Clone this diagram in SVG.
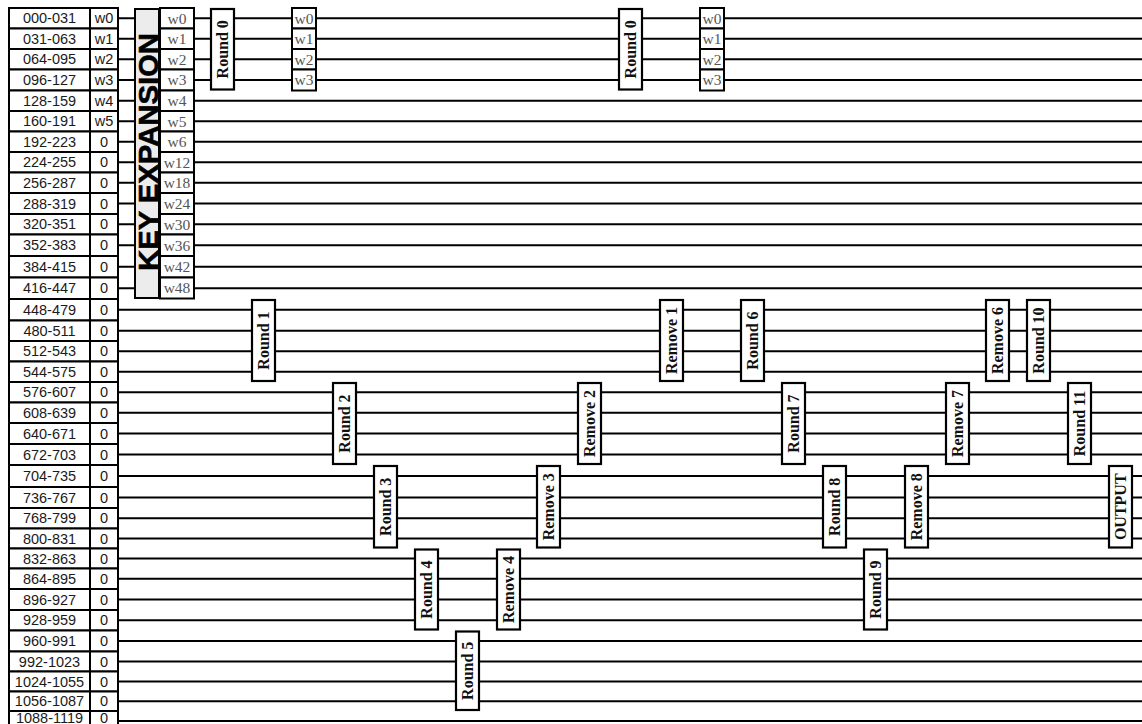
<svg xmlns="http://www.w3.org/2000/svg" width="1142" height="724" viewBox="0 0 1142 724">
<style>
.bg{fill:#ffffff}
.wire{stroke:#000;stroke-width:1.9;fill:none}
.cell{fill:#fff;stroke:#000;stroke-width:2}
.lbl{font-family:"Liberation Sans",Arial,sans-serif;font-size:14.5px;fill:#1a1a1a;text-anchor:middle}
.wc{font-family:"Liberation Serif","Times New Roman",serif;font-size:15.5px;fill:#555;text-anchor:middle}
.box{fill:#fff;stroke:#000;stroke-width:2.2}
.bt{font-family:"Liberation Serif","Times New Roman",serif;font-size:16px;font-weight:bold;fill:#111;text-anchor:middle}
.ke{fill:#ececec;stroke:#000;stroke-width:2}
.ket{font-family:"Liberation Sans",Arial,sans-serif;font-size:28px;font-weight:bold;fill:#000;stroke:#000;stroke-width:0.6;text-anchor:middle}
</style>
<rect class="bg" x="0" y="0" width="1142" height="724"/>
<g id="connectors">
<line class="wire" x1="118" y1="18.25" x2="1142" y2="18.25"/>
<line class="wire" x1="118" y1="38.75" x2="1142" y2="38.75"/>
<line class="wire" x1="118" y1="59.25" x2="1142" y2="59.25"/>
<line class="wire" x1="118" y1="80" x2="1142" y2="80"/>
<line class="wire" x1="118" y1="100.75" x2="1142" y2="100.75"/>
<line class="wire" x1="118" y1="121.25" x2="1142" y2="121.25"/>
<line class="wire" x1="118" y1="141.75" x2="1142" y2="141.75"/>
<line class="wire" x1="118" y1="162.25" x2="1142" y2="162.25"/>
<line class="wire" x1="118" y1="182.75" x2="1142" y2="182.75"/>
<line class="wire" x1="118" y1="203.5" x2="1142" y2="203.5"/>
<line class="wire" x1="118" y1="224.25" x2="1142" y2="224.25"/>
<line class="wire" x1="118" y1="245.25" x2="1142" y2="245.25"/>
<line class="wire" x1="118" y1="266.75" x2="1142" y2="266.75"/>
<line class="wire" x1="118" y1="288.25" x2="1142" y2="288.25"/>
<line class="wire" x1="118" y1="309.75" x2="1142" y2="309.75"/>
<line class="wire" x1="118" y1="330.75" x2="1142" y2="330.75"/>
<line class="wire" x1="118" y1="351.25" x2="1142" y2="351.25"/>
<line class="wire" x1="118" y1="371.75" x2="1142" y2="371.75"/>
<line class="wire" x1="118" y1="392.25" x2="1142" y2="392.25"/>
<line class="wire" x1="118" y1="412.75" x2="1142" y2="412.75"/>
<line class="wire" x1="118" y1="433.5" x2="1142" y2="433.5"/>
<line class="wire" x1="118" y1="454.5" x2="1142" y2="454.5"/>
<line class="wire" x1="118" y1="476" x2="1142" y2="476"/>
<line class="wire" x1="118" y1="497.5" x2="1142" y2="497.5"/>
<line class="wire" x1="118" y1="518.25" x2="1142" y2="518.25"/>
<line class="wire" x1="118" y1="538.5" x2="1142" y2="538.5"/>
<line class="wire" x1="118" y1="558.5" x2="1142" y2="558.5"/>
<line class="wire" x1="118" y1="578.75" x2="1142" y2="578.75"/>
<line class="wire" x1="118" y1="599.5" x2="1142" y2="599.5"/>
<line class="wire" x1="118" y1="620.25" x2="1142" y2="620.25"/>
<line class="wire" x1="118" y1="641" x2="1142" y2="641"/>
<line class="wire" x1="118" y1="661.5" x2="1142" y2="661.5"/>
<line class="wire" x1="118" y1="681.5" x2="1142" y2="681.5"/>
<line class="wire" x1="118" y1="701.25" x2="1142" y2="701.25"/>
<line class="wire" x1="118" y1="721" x2="1142" y2="721"/>
</g>
<g id="input-table">
<g id="row0"><rect class="cell" x="9" y="8" width="81" height="20.5"/><rect class="cell" x="90" y="8" width="28" height="20.5"/><text class="lbl" x="49.5" y="23.4">000-031</text><text class="lbl" x="104" y="23.4">w0</text></g>
<g id="row1"><rect class="cell" x="9" y="28.5" width="81" height="20.5"/><rect class="cell" x="90" y="28.5" width="28" height="20.5"/><text class="lbl" x="49.5" y="43.9">031-063</text><text class="lbl" x="104" y="43.9">w1</text></g>
<g id="row2"><rect class="cell" x="9" y="49" width="81" height="20.5"/><rect class="cell" x="90" y="49" width="28" height="20.5"/><text class="lbl" x="49.5" y="64.4">064-095</text><text class="lbl" x="104" y="64.4">w2</text></g>
<g id="row3"><rect class="cell" x="9" y="69.5" width="81" height="21"/><rect class="cell" x="90" y="69.5" width="28" height="21"/><text class="lbl" x="49.5" y="85.2">096-127</text><text class="lbl" x="104" y="85.2">w3</text></g>
<g id="row4"><rect class="cell" x="9" y="90.5" width="81" height="20.5"/><rect class="cell" x="90" y="90.5" width="28" height="20.5"/><text class="lbl" x="49.5" y="105.9">128-159</text><text class="lbl" x="104" y="105.9">w4</text></g>
<g id="row5"><rect class="cell" x="9" y="111" width="81" height="20.5"/><rect class="cell" x="90" y="111" width="28" height="20.5"/><text class="lbl" x="49.5" y="126.4">160-191</text><text class="lbl" x="104" y="126.4">w5</text></g>
<g id="row6"><rect class="cell" x="9" y="131.5" width="81" height="20.5"/><rect class="cell" x="90" y="131.5" width="28" height="20.5"/><text class="lbl" x="49.5" y="146.9">192-223</text><text class="lbl" x="104" y="146.9">0</text></g>
<g id="row7"><rect class="cell" x="9" y="152" width="81" height="20.5"/><rect class="cell" x="90" y="152" width="28" height="20.5"/><text class="lbl" x="49.5" y="167.4">224-255</text><text class="lbl" x="104" y="167.4">0</text></g>
<g id="row8"><rect class="cell" x="9" y="172.5" width="81" height="20.5"/><rect class="cell" x="90" y="172.5" width="28" height="20.5"/><text class="lbl" x="49.5" y="187.9">256-287</text><text class="lbl" x="104" y="187.9">0</text></g>
<g id="row9"><rect class="cell" x="9" y="193" width="81" height="21"/><rect class="cell" x="90" y="193" width="28" height="21"/><text class="lbl" x="49.5" y="208.7">288-319</text><text class="lbl" x="104" y="208.7">0</text></g>
<g id="row10"><rect class="cell" x="9" y="214" width="81" height="20.5"/><rect class="cell" x="90" y="214" width="28" height="20.5"/><text class="lbl" x="49.5" y="229.4">320-351</text><text class="lbl" x="104" y="229.4">0</text></g>
<g id="row11"><rect class="cell" x="9" y="234.5" width="81" height="21.5"/><rect class="cell" x="90" y="234.5" width="28" height="21.5"/><text class="lbl" x="49.5" y="250.4">352-383</text><text class="lbl" x="104" y="250.4">0</text></g>
<g id="row12"><rect class="cell" x="9" y="256" width="81" height="21.5"/><rect class="cell" x="90" y="256" width="28" height="21.5"/><text class="lbl" x="49.5" y="271.9">384-415</text><text class="lbl" x="104" y="271.9">0</text></g>
<g id="row13"><rect class="cell" x="9" y="277.5" width="81" height="21.5"/><rect class="cell" x="90" y="277.5" width="28" height="21.5"/><text class="lbl" x="49.5" y="293.4">416-447</text><text class="lbl" x="104" y="293.4">0</text></g>
<g id="row14"><rect class="cell" x="9" y="299" width="81" height="21.5"/><rect class="cell" x="90" y="299" width="28" height="21.5"/><text class="lbl" x="49.5" y="314.9">448-479</text><text class="lbl" x="104" y="314.9">0</text></g>
<g id="row15"><rect class="cell" x="9" y="320.5" width="81" height="20.5"/><rect class="cell" x="90" y="320.5" width="28" height="20.5"/><text class="lbl" x="49.5" y="335.9">480-511</text><text class="lbl" x="104" y="335.9">0</text></g>
<g id="row16"><rect class="cell" x="9" y="341" width="81" height="20.5"/><rect class="cell" x="90" y="341" width="28" height="20.5"/><text class="lbl" x="49.5" y="356.4">512-543</text><text class="lbl" x="104" y="356.4">0</text></g>
<g id="row17"><rect class="cell" x="9" y="361.5" width="81" height="20.5"/><rect class="cell" x="90" y="361.5" width="28" height="20.5"/><text class="lbl" x="49.5" y="376.9">544-575</text><text class="lbl" x="104" y="376.9">0</text></g>
<g id="row18"><rect class="cell" x="9" y="382" width="81" height="20.5"/><rect class="cell" x="90" y="382" width="28" height="20.5"/><text class="lbl" x="49.5" y="397.4">576-607</text><text class="lbl" x="104" y="397.4">0</text></g>
<g id="row19"><rect class="cell" x="9" y="402.5" width="81" height="20.5"/><rect class="cell" x="90" y="402.5" width="28" height="20.5"/><text class="lbl" x="49.5" y="417.9">608-639</text><text class="lbl" x="104" y="417.9">0</text></g>
<g id="row20"><rect class="cell" x="9" y="423" width="81" height="21"/><rect class="cell" x="90" y="423" width="28" height="21"/><text class="lbl" x="49.5" y="438.7">640-671</text><text class="lbl" x="104" y="438.7">0</text></g>
<g id="row21"><rect class="cell" x="9" y="444" width="81" height="21"/><rect class="cell" x="90" y="444" width="28" height="21"/><text class="lbl" x="49.5" y="459.7">672-703</text><text class="lbl" x="104" y="459.7">0</text></g>
<g id="row22"><rect class="cell" x="9" y="465" width="81" height="22"/><rect class="cell" x="90" y="465" width="28" height="22"/><text class="lbl" x="49.5" y="481.2">704-735</text><text class="lbl" x="104" y="481.2">0</text></g>
<g id="row23"><rect class="cell" x="9" y="487" width="81" height="21"/><rect class="cell" x="90" y="487" width="28" height="21"/><text class="lbl" x="49.5" y="502.7">736-767</text><text class="lbl" x="104" y="502.7">0</text></g>
<g id="row24"><rect class="cell" x="9" y="508" width="81" height="20.5"/><rect class="cell" x="90" y="508" width="28" height="20.5"/><text class="lbl" x="49.5" y="523.4">768-799</text><text class="lbl" x="104" y="523.4">0</text></g>
<g id="row25"><rect class="cell" x="9" y="528.5" width="81" height="20"/><rect class="cell" x="90" y="528.5" width="28" height="20"/><text class="lbl" x="49.5" y="543.7">800-831</text><text class="lbl" x="104" y="543.7">0</text></g>
<g id="row26"><rect class="cell" x="9" y="548.5" width="81" height="20"/><rect class="cell" x="90" y="548.5" width="28" height="20"/><text class="lbl" x="49.5" y="563.7">832-863</text><text class="lbl" x="104" y="563.7">0</text></g>
<g id="row27"><rect class="cell" x="9" y="568.5" width="81" height="20.5"/><rect class="cell" x="90" y="568.5" width="28" height="20.5"/><text class="lbl" x="49.5" y="583.9">864-895</text><text class="lbl" x="104" y="583.9">0</text></g>
<g id="row28"><rect class="cell" x="9" y="589" width="81" height="21"/><rect class="cell" x="90" y="589" width="28" height="21"/><text class="lbl" x="49.5" y="604.7">896-927</text><text class="lbl" x="104" y="604.7">0</text></g>
<g id="row29"><rect class="cell" x="9" y="610" width="81" height="20.5"/><rect class="cell" x="90" y="610" width="28" height="20.5"/><text class="lbl" x="49.5" y="625.4">928-959</text><text class="lbl" x="104" y="625.4">0</text></g>
<g id="row30"><rect class="cell" x="9" y="630.5" width="81" height="21"/><rect class="cell" x="90" y="630.5" width="28" height="21"/><text class="lbl" x="49.5" y="646.2">960-991</text><text class="lbl" x="104" y="646.2">0</text></g>
<g id="row31"><rect class="cell" x="9" y="651.5" width="81" height="20"/><rect class="cell" x="90" y="651.5" width="28" height="20"/><text class="lbl" x="49.5" y="666.7">992-1023</text><text class="lbl" x="104" y="666.7">0</text></g>
<g id="row32"><rect class="cell" x="9" y="671.5" width="81" height="20"/><rect class="cell" x="90" y="671.5" width="28" height="20"/><text class="lbl" x="49.5" y="686.7">1024-1055</text><text class="lbl" x="104" y="686.7">0</text></g>
<g id="row33"><rect class="cell" x="9" y="691.5" width="81" height="19.5"/><rect class="cell" x="90" y="691.5" width="28" height="19.5"/><text class="lbl" x="49.5" y="706.4">1056-1087</text><text class="lbl" x="104" y="706.4">0</text></g>
<g id="row34"><rect class="cell" x="9" y="711" width="81" height="20"/><rect class="cell" x="90" y="711" width="28" height="20"/><text class="lbl" x="49.5" y="722.5">1088-1119</text><text class="lbl" x="104" y="722.5">0</text></g>
</g>
<g id="key-expansion">
<rect class="ke" x="135" y="9" width="24" height="289"/>
<text class="ket" transform="translate(157.5,152) rotate(-90)" textLength="238" lengthAdjust="spacingAndGlyphs">KEY EXPANSION</text>
</g>
<g id="key-words">
<rect class="cell" x="160" y="8" width="34" height="20.5"/><text class="wc" x="177" y="23.6">w0</text>
<rect class="cell" x="160" y="28.5" width="34" height="20.5"/><text class="wc" x="177" y="44.1">w1</text>
<rect class="cell" x="160" y="49" width="34" height="20.5"/><text class="wc" x="177" y="64.6">w2</text>
<rect class="cell" x="160" y="69.5" width="34" height="21"/><text class="wc" x="177" y="85.4">w3</text>
<rect class="cell" x="160" y="90.5" width="34" height="20.5"/><text class="wc" x="177" y="106.1">w4</text>
<rect class="cell" x="160" y="111" width="34" height="20.5"/><text class="wc" x="177" y="126.6">w5</text>
<rect class="cell" x="160" y="131.5" width="34" height="20.5"/><text class="wc" x="177" y="147.1">w6</text>
<rect class="cell" x="160" y="152" width="34" height="20.5"/><text class="wc" x="177" y="167.6">w12</text>
<rect class="cell" x="160" y="172.5" width="34" height="20.5"/><text class="wc" x="177" y="188.1">w18</text>
<rect class="cell" x="160" y="193" width="34" height="21"/><text class="wc" x="177" y="208.9">w24</text>
<rect class="cell" x="160" y="214" width="34" height="20.5"/><text class="wc" x="177" y="229.6">w30</text>
<rect class="cell" x="160" y="234.5" width="34" height="21.5"/><text class="wc" x="177" y="250.6">w36</text>
<rect class="cell" x="160" y="256" width="34" height="21.5"/><text class="wc" x="177" y="272.1">w42</text>
<rect class="cell" x="160" y="277.5" width="34" height="21"/><text class="wc" x="177" y="293.4">w48</text>
</g>
<g id="round0a"><rect class="box" x="211" y="9" width="23" height="80.5"/><text class="bt" transform="translate(228,49.25) rotate(-90)">Round 0</text></g>
<g id="words-a">
<rect class="cell" x="292" y="8" width="24" height="20.5"/><text class="wc" x="304" y="23.6">w0</text>
<rect class="cell" x="292" y="28.5" width="24" height="20.5"/><text class="wc" x="304" y="44.1">w1</text>
<rect class="cell" x="292" y="49" width="24" height="20.5"/><text class="wc" x="304" y="64.6">w2</text>
<rect class="cell" x="292" y="69.5" width="24" height="21"/><text class="wc" x="304" y="85.4">w3</text>
</g>
<g id="round0b"><rect class="box" x="619" y="9" width="23" height="80.5"/><text class="bt" transform="translate(636,49.25) rotate(-90)">Round 0</text></g>
<g id="words-b">
<rect class="cell" x="700" y="8" width="24" height="20.5"/><text class="wc" x="712" y="23.6">w0</text>
<rect class="cell" x="700" y="28.5" width="24" height="20.5"/><text class="wc" x="712" y="44.1">w1</text>
<rect class="cell" x="700" y="49" width="24" height="20.5"/><text class="wc" x="712" y="64.6">w2</text>
<rect class="cell" x="700" y="69.5" width="24" height="21"/><text class="wc" x="712" y="85.4">w3</text>
</g>
<g id="round1"><rect class="box" x="252" y="300" width="23" height="81"/><text class="bt" transform="translate(269,340.5) rotate(-90)">Round 1</text></g>
<g id="round2"><rect class="box" x="333" y="383" width="23" height="81"/><text class="bt" transform="translate(350,423.5) rotate(-90)">Round 2</text></g>
<g id="round3"><rect class="box" x="374" y="466" width="23" height="81.5"/><text class="bt" transform="translate(391,506.75) rotate(-90)">Round 3</text></g>
<g id="round4"><rect class="box" x="415" y="549.5" width="23" height="80"/><text class="bt" transform="translate(432,589.5) rotate(-90)">Round 4</text></g>
<g id="round5"><rect class="box" x="456" y="631.5" width="23" height="78.5"/><text class="bt" transform="translate(473,670.75) rotate(-90)">Round 5</text></g>
<g id="remove4"><rect class="box" x="497" y="549.5" width="23" height="80"/><text class="bt" transform="translate(514,589.5) rotate(-90)">Remove 4</text></g>
<g id="remove3"><rect class="box" x="537" y="466" width="23" height="81.5"/><text class="bt" transform="translate(554,506.75) rotate(-90)">Remove 3</text></g>
<g id="remove2"><rect class="box" x="578" y="383" width="23" height="81"/><text class="bt" transform="translate(595,423.5) rotate(-90)">Remove 2</text></g>
<g id="remove1"><rect class="box" x="660" y="300" width="23" height="81"/><text class="bt" transform="translate(677,340.5) rotate(-90)">Remove 1</text></g>
<g id="round6"><rect class="box" x="741" y="300" width="23" height="81"/><text class="bt" transform="translate(758,340.5) rotate(-90)">Round 6</text></g>
<g id="round7"><rect class="box" x="782" y="383" width="23" height="81"/><text class="bt" transform="translate(799,423.5) rotate(-90)">Round 7</text></g>
<g id="round8"><rect class="box" x="823" y="466" width="23" height="81.5"/><text class="bt" transform="translate(840,506.75) rotate(-90)">Round 8</text></g>
<g id="round9"><rect class="box" x="864" y="549.5" width="23" height="80"/><text class="bt" transform="translate(881,589.5) rotate(-90)">Round 9</text></g>
<g id="remove8"><rect class="box" x="905" y="466" width="23" height="81.5"/><text class="bt" transform="translate(922,506.75) rotate(-90)">Remove 8</text></g>
<g id="remove7"><rect class="box" x="946" y="383" width="23" height="81"/><text class="bt" transform="translate(963,423.5) rotate(-90)">Remove 7</text></g>
<g id="remove6"><rect class="box" x="986" y="300" width="23" height="81"/><text class="bt" transform="translate(1003,340.5) rotate(-90)">Remove 6</text></g>
<g id="round10"><rect class="box" x="1027" y="300" width="23" height="81"/><text class="bt" transform="translate(1044,340.5) rotate(-90)">Round 10</text></g>
<g id="round11"><rect class="box" x="1068" y="383" width="23" height="81"/><text class="bt" transform="translate(1085,423.5) rotate(-90)">Round 11</text></g>
<g id="output"><rect class="box" x="1109" y="466" width="23" height="81.5"/><text class="bt" transform="translate(1126,506.75) rotate(-90)">OUTPUT</text></g>
</svg>
